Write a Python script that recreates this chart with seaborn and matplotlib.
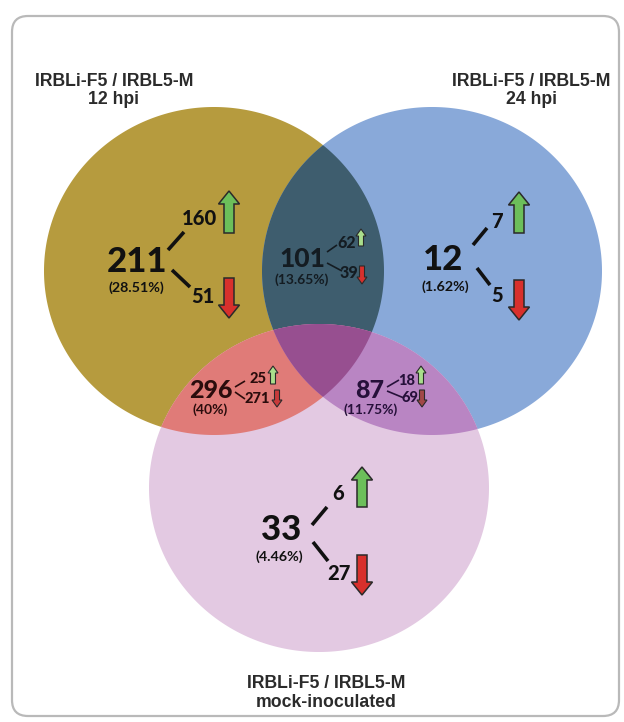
import numpy as np
import matplotlib
matplotlib.use("Agg")
import matplotlib.pyplot as plt
from matplotlib.path import Path
from matplotlib.patches import Polygon, FancyArrow, FancyBboxPatch
import seaborn as sns

# ---- data -----------------------------------------------------------------
set_titles = ["IRBLi-F5 / IRBL5-M", "IRBLi-F5 / IRBL5-M", "IRBLi-F5 / IRBL5-M"]
set_subtitles = ["12 hpi", "24 hpi", "mock-inoculated"]

region_names = ["12 only", "12 & 24", "24 only", "12 & mock", "24 & mock", "mock only"]
region_totals = [211, 101, 12, 296, 87, 33]
region_pcts = ["(28.51%)", "(13.65%)", "(1.62%)", "(40%)", "(11.75%)", "(4.46%)"]
region_up = [160, 62, 7, 25, 18, 6]
region_down = [51, 39, 5, 271, 69, 27]

# ---- layout (pixel coordinates, y grows downwards) --------------------------
W, H = 624, 722
circle_centers = [(214, 271), (432, 271), (319, 488)]
RX, RY = 170, 164

fill_a = "#B69B3E"     # 12 hpi
fill_b = "#89A9D9"     # 24 hpi
fill_c = "#E3C9E2"     # mock
fill_ab = "#3E5D6E"
fill_ac = "#E07B78"
fill_bc = "#B985C3"
fill_abc = "#974F90"

# per region: total (x, baseline), pct baseline, up label (x, baseline), down label (x, baseline),
# up arrow (x, bottom, top), down arrow (x, top, bottom), connector segments, font sizes
layout = [
    dict(tot=(137, 272), pct=(136, 292), up=(199, 225), dn=(203, 303),
         ua=(229, 233, 191), da=(229, 278, 318),
         seg=[((168, 250), (184, 232)), ((172, 270), (190, 287))], big=True,
         fs=(25, 14.5, 10.3), col="#111111", ucol="#6CBF5A", dcol="#D8302C"),
    dict(tot=(302, 267), pct=(302, 284), up=(347, 248), dn=(349, 278),
         ua=(361, 246, 229), da=(362, 266, 284),
         seg=[((327, 252), (337, 245)), ((327, 263), (342, 271))], big=False,
         fs=(19, 11.5, 10), col="#141c22", ucol="#A9DE8C", dcol="#D8302C"),
    dict(tot=(443, 270), pct=(445, 291), up=(497, 228), dn=(497, 302),
         ua=(519, 233, 192), da=(519, 280, 320),
         seg=[((473, 245), (487, 228)), ((477, 268), (490, 285))], big=True,
         fs=(25, 14.5, 10.3), col="#111111", ucol="#6CBF5A", dcol="#D8302C"),
    dict(tot=(211, 398), pct=(210, 414), up=(258, 383), dn=(257, 403),
         ua=(273, 384, 366), da=(277, 390, 407),
         seg=[((235, 387), (245, 381)), ((235, 392), (245, 399))], big=False,
         fs=(18, 10.5, 10), col="#2a0c0c", ucol="#A9DE8C", dcol="#C83A3A"),
    dict(tot=(370, 398), pct=(371, 414), up=(407, 385), dn=(410, 402),
         ua=(421, 384, 366), da=(422, 390, 407),
         seg=[((387, 387), (399, 380)), ((387, 391), (404, 398))], big=False,
         fs=(18, 10.5, 10), col="#26103a", ucol="#A9DE8C", dcol="#A24848"),
    dict(tot=(281, 540), pct=(279, 561), up=(338, 500), dn=(339, 580),
         ua=(362, 507, 467), da=(362, 555, 595),
         seg=[((312, 525), (327, 507)), ((313, 542), (328, 561))], big=True,
         fs=(25, 14.5, 10.3), col="#111111", ucol="#6CBF5A", dcol="#D8302C"),
]

title_pos = [(114, 86, 104), (531, 86, 104), (326, 688, 707)]

# ---- helpers --------------------------------------------------------------
def ellipse_points(cx, cy, rx, ry, n=900):
    t = np.linspace(0, 2 * np.pi, n, endpoint=False)
    return np.column_stack([cx + rx * np.cos(t), cy + ry * np.sin(t)])


def convex_intersection(p, q):
    inside_p = p[Path(q).contains_points(p)]
    inside_q = q[Path(p).contains_points(q)]
    pts = np.vstack([inside_p, inside_q])
    c = pts.mean(axis=0)
    order = np.argsort(np.arctan2(pts[:, 1] - c[1], pts[:, 0] - c[0]))
    return pts[order]


# ---- figure ---------------------------------------------------------------
sns.set_theme(style="white")
plt.rcParams["font.family"] = ["Lato", "DejaVu Sans"]

fig = plt.figure(figsize=(W / 100, H / 100), dpi=100)
ax = fig.add_axes([0, 0, 1, 1])
ax.set_xlim(0, W)
ax.set_ylim(H, 0)
ax.axis("off")

# rounded frame
frame = FancyBboxPatch((12, 16), 607, 700, boxstyle="round,pad=0,rounding_size=16",
                       fc="white", ec="#b9b9b9", lw=1.6, zorder=0)
ax.add_patch(frame)

A, B, C = [ellipse_points(cx, cy, RX, RY) for cx, cy in circle_centers]
for pts, col in [(A, fill_a), (B, fill_b), (C, fill_c)]:
    ax.add_patch(Polygon(pts, closed=True, fc=col, ec="none", zorder=1))

AB = convex_intersection(A, B)
AC = convex_intersection(A, C)
BC = convex_intersection(B, C)
ABC = convex_intersection(AB, C)
for pts, col in [(AB, fill_ab), (AC, fill_ac), (BC, fill_bc), (ABC, fill_abc)]:
    ax.add_patch(Polygon(pts, closed=True, fc=col, ec="none", zorder=2))

# set titles
for (x, y1, y2), t1, t2 in zip(title_pos, set_titles, set_subtitles):
    for txt, y in [(t1, y1), (t2, y2)]:
        ax.text(x, y, txt, ha="center", va="baseline", fontsize=12.7,
                fontweight="bold", family=["Liberation Sans", "DejaVu Sans"],
                color="#2b2b2b", zorder=5)


def block_arrow(x, y0, y1, fc, big):
    if big:
        w, hw, hl, lw = 10, 21, 13, 1.1
    else:
        w, hw, hl, lw = 5, 10, 7, 0.8
    ax.add_patch(FancyArrow(x, y0, 0, y1 - y0, width=w, head_width=hw, head_length=hl,
                            length_includes_head=True, fc=fc, ec="#2a2a2a", lw=lw,
                            zorder=4))


for total, pct, up, dn, L in zip(region_totals, region_pcts, region_up, region_down, layout):
    big = L["big"]
    fs_tot, fs_sub, fs_pct = L["fs"]
    col = L["col"]
    ax.text(*L["tot"], f"{total}", ha="center", va="baseline", fontsize=fs_tot,
            fontweight="black", color=col, zorder=5)
    ax.text(*L["pct"], pct, ha="center", va="baseline", fontsize=fs_pct,
            fontweight="bold", color=col, zorder=5)
    ax.text(*L["up"], f"{up}", ha="center", va="baseline", fontsize=fs_sub,
            fontweight="black", color=col, zorder=5)
    ax.text(*L["dn"], f"{dn}", ha="center", va="baseline", fontsize=fs_sub,
            fontweight="black", color=col, zorder=5)
    for (x0, y0), (x1, y1) in L["seg"]:
        ax.plot([x0, x1], [y0, y1], color=col, lw=2.6 if big else 1.2,
                solid_capstyle="butt", zorder=5)
    ux, ub, ut = L["ua"]
    block_arrow(ux, ub, ut, L["ucol"], big)
    dx, dt, db = L["da"]
    block_arrow(dx, dt, db, L["dcol"], big)

fig.savefig("out.png", dpi=100, facecolor="white")
